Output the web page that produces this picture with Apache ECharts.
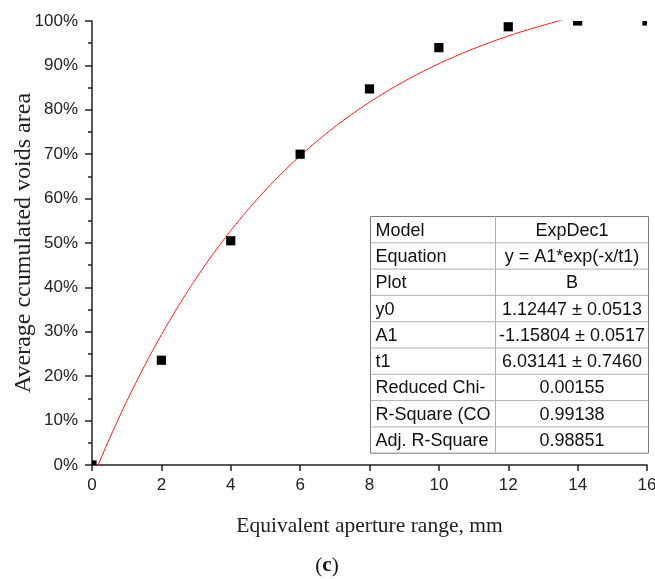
<!DOCTYPE html>
<html>
<head>
<meta charset="utf-8">
<script src="https://cdn.jsdelivr.net/npm/echarts@6.0.0/dist/echarts.min.js"></script>
<style>
  html, body { margin: 0; padding: 0; background: #fff; }
  #chart { width: 655px; height: 579px; }
</style>
</head>
<body>
<div id="chart"></div>
<script>
// Measured cumulative void area by equivalent aperture (mm)
const apertures = [0, 2, 4, 6, 8, 10, 12, 14, 16];
const voidsArea = [0, 0.236, 0.505, 0.700, 0.847, 0.940, 0.987, 1.000, 1.000];

// ExpDec1 fit report
const fitLabels = ['Model', 'Equation', 'Plot', 'y0', 'A1', 't1',
  'Reduced Chi-', 'R-Square (CO', 'Adj. R-Square'];
const fitValues = ['ExpDec1', 'y = A1*exp(-x/t1)', 'B', '1.12447 \u00b1 0.0513',
  '-1.15804 \u00b1 0.0517', '6.03141 \u00b1 0.7460', '0.00155', '0.99138', '0.98851'];
const fitY0 = 1.12447;
const fitA1 = -1.15804;
const fitT1 = 6.03141;

// fitted curve y = y0 + A1*exp(-x/t1), evaluated across the axis range
const fitCurve = [];
for (let i = 0; i <= 320; i++) {
  const x = i * 0.05;
  fitCurve.push([x, fitY0 + fitA1 * Math.exp(-x / fitT1)]);
}

const chart = echarts.init(document.getElementById('chart'), null, { renderer: 'canvas' });

const axisColor = '#222';
const tickFont = 'Liberation Sans, Arial, sans-serif';
const serif = 'Liberation Serif, Times New Roman, serif';

// fit-report table
const tbl = { left: 368, top: 214, width: 278, rowH: 26.3, col1: 125 };
const tableChildren = [];
const tblH = tbl.rowH * fitLabels.length;
tableChildren.push({
  type: 'rect', shape: { x: 0, y: 0, width: tbl.width, height: tblH },
  style: { fill: '#fff', stroke: '#7a7a7a', lineWidth: 1 }, z: 1
});
tableChildren.push({
  type: 'line', shape: { x1: tbl.col1, y1: 0, x2: tbl.col1, y2: tblH },
  style: { stroke: '#b0b0b0', lineWidth: 1 }, z: 2
});
for (let r = 1; r < fitLabels.length; r++) {
  tableChildren.push({
    type: 'line', shape: { x1: 0, y1: r * tbl.rowH, x2: tbl.width, y2: r * tbl.rowH },
    style: { stroke: '#b0b0b0', lineWidth: 1 }, z: 2
  });
}
fitLabels.forEach((lab, r) => {
  const cy = r * tbl.rowH + tbl.rowH / 2 + 1;
  tableChildren.push({
    type: 'text', x: 5, y: cy, z: 3,
    style: { text: lab, fill: '#111', font: '18px ' + tickFont, align: 'left', verticalAlign: 'middle' }
  });
  tableChildren.push({
    type: 'text', x: tbl.col1 + (tbl.width - tbl.col1) / 2, y: cy, z: 3,
    style: { text: fitValues[r], fill: '#111', font: '18px ' + tickFont, align: 'center', verticalAlign: 'middle' }
  });
});

const option = {
  animation: false,
  backgroundColor: '#fff',
  grid: { left: 92, right: 8, top: 21, bottom: 114, containLabel: false, outerBoundsMode: 'none' },
  xAxis: {
    type: 'value', min: 0, max: 16, interval: 2,
    name: 'Equivalent aperture range, mm',
    nameLocation: 'middle', nameGap: 50, nameMoveOverlap: false,
    nameTextStyle: { fontFamily: serif, fontSize: 21.5, color: axisColor },
    axisLine: { show: true, onZero: false, lineStyle: { color: axisColor, width: 1.5 } },
    axisTick: { show: true, inside: false, length: 6, lineStyle: { color: axisColor, width: 1.5 } },
    minorTick: { show: false },
    splitLine: { show: false },
    axisLabel: { margin: 12, fontFamily: tickFont, fontSize: 17, color: axisColor }
  },
  yAxis: {
    type: 'value', min: 0, max: 1, interval: 0.1,
    name: 'Average ccumulated voids area',
    nameLocation: 'middle', nameGap: 56, nameMoveOverlap: false,
    nameTextStyle: { fontFamily: serif, fontSize: 24, color: axisColor },
    axisLine: { show: true, onZero: false, lineStyle: { color: axisColor, width: 1.5 } },
    axisTick: { show: true, inside: false, length: 7, lineStyle: { color: axisColor, width: 1.5 } },
    minorTick: { show: true, splitNumber: 2, length: 4, lineStyle: { color: axisColor, width: 1.5 } },
    splitLine: { show: false },
    axisLabel: {
      margin: 14, fontFamily: tickFont, fontSize: 17, color: axisColor,
      formatter: v => Math.round(v * 100) + '%'
    }
  },
  series: [
    {
      type: 'line', data: fitCurve, showSymbol: false, clip: true,
      lineStyle: { color: '#ff1a1a', width: 1 }, z: 2
    },
    {
      type: 'custom', data: apertures.map((x, i) => [x, voidsArea[i]]), z: 3,
      renderItem(params, api) {
        const p = api.coord([api.value(0), api.value(1)]);
        const cs = params.coordSys;
        const h = 4.6;
        const x0 = Math.max(p[0] - h, cs.x), x1 = Math.min(p[0] + h, cs.x + cs.width);
        const y0 = Math.max(p[1] - h, cs.y), y1 = Math.min(p[1] + h, cs.y + cs.height);
        if (x1 <= x0 || y1 <= y0) return null;
        return {
          type: 'rect',
          shape: { x: x0, y: y0, width: x1 - x0, height: y1 - y0 },
          style: { fill: '#000' }
        };
      }
    }
  ],
  graphic: [
    { type: 'group', left: tbl.left, top: tbl.top, children: tableChildren },
    {
      type: 'text', x: 327, y: 566,
      style: {
        text: '({c|c})', fill: '#111', font: '21px ' + serif,
        align: 'center', verticalAlign: 'middle',
        rich: { c: { fontFamily: serif, fontSize: 21, fontWeight: 'bold', fill: '#111' } }
      }
    }
  ]
};

chart.setOption(option);
</script>
</body>
</html>
